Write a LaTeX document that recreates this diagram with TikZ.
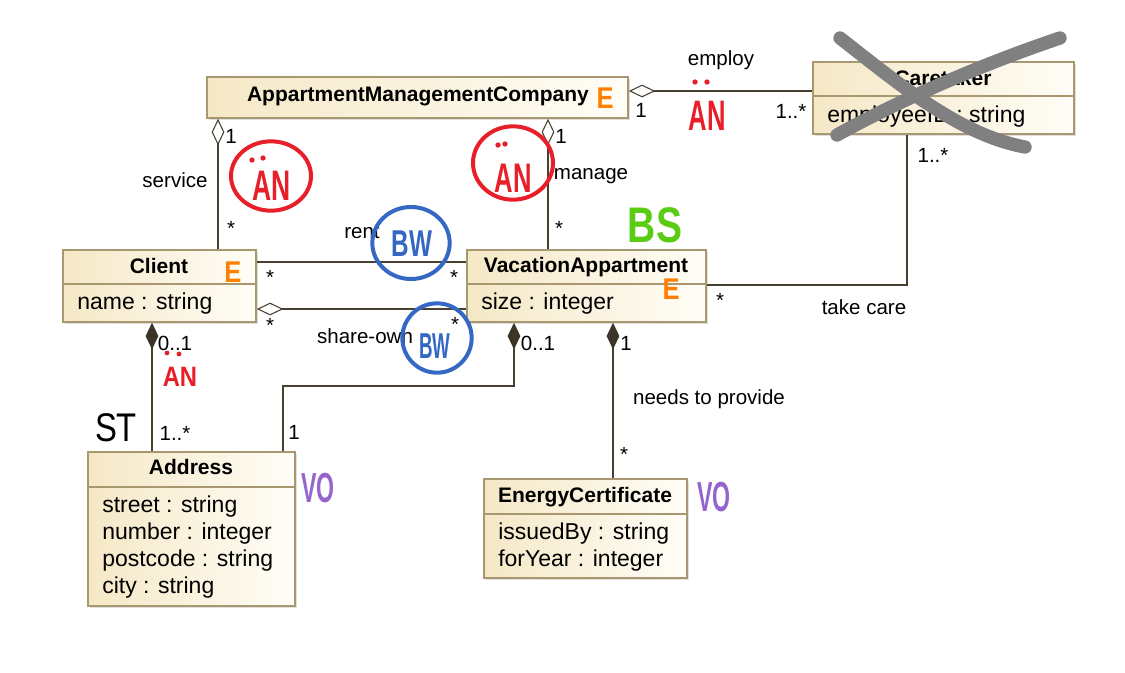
\documentclass[tikz,border=0pt]{standalone}
\usepackage{fontspec}
\setmainfont{Liberation Sans}
\usetikzlibrary{arrows.meta,shadows}
\definecolor{boxL}{RGB}{245,232,198}
\definecolor{boxR}{RGB}{255,253,247}
\definecolor{boxB}{RGB}{168,152,112}
\definecolor{lineC}{RGB}{72,64,48}
\definecolor{diaC}{RGB}{60,52,38}
\definecolor{hOrange}{RGB}{255,128,0}
\definecolor{hRed}{RGB}{232,30,40}
\definecolor{hBlue}{RGB}{52,104,196}
\definecolor{hGreen}{RGB}{90,204,20}
\definecolor{hPurple}{RGB}{150,100,205}
\definecolor{hGray}{RGB}{128,128,128}
\tikzset{
 classbox/.style={draw=boxB, line width=1.1pt, left color=boxL, right color=boxR, inner sep=0pt,
   drop shadow={shadow xshift=1.5pt, shadow yshift=-1.5pt, opacity=0.25}},
 divider/.style={draw=boxB, line width=1pt},
 ctitle/.style={font=\bfseries\fontsize{15.75}{18}\selectfont, anchor=base, inner sep=0pt},
 cattr/.style={font=\fontsize{17.25}{20}\selectfont, anchor=base west, inner sep=0pt},
 lbl/.style={font=\fontsize{15.4}{18}\selectfont, inner sep=0pt},
 assoc/.style={draw=lineC, line width=0.9pt},
 agg/.style={assoc, {Diamond[open, length=20pt, width=9.5pt, line width=0.8pt]}-},
 comp/.style={assoc, {Diamond[length=20pt, width=9.5pt, fill=diaC, color=diaC]}-},
 handb/.style={inner sep=0pt, font=\bfseries\fontsize{#1}{#1}\selectfont},
 handr/.style={inner sep=0pt, font=\fontsize{#1}{#1}\selectfont},
 ring/.style={line width=3pt},
 dot/.style={fill=hRed, draw=none}
}
\begin{document}
\begin{tikzpicture}[x=0.75pt, y=-0.75pt]
\useasboundingbox (0,0) rectangle (1125,672);
\fill[white] (0,0) rectangle (1125,672);

% ---- classes ----
\node[classbox, minimum width=315.75pt, minimum height=30.75pt] (amc) at (417.5,97.5) {};
\node[ctitle] (amcT) at (418,101) {AppartmentManagementCompany};

\node[classbox, minimum width=195.75pt, minimum height=54pt] (care) at (943.5,98) {};
\draw[divider] (813,96) -- (1074,96);
\node[ctitle] (careT) at (943,85) {Caretaker};
\node[cattr] (careA) at (827,122) {employeeID : string};

\node[classbox, minimum width=144.75pt, minimum height=54pt] (cli) at (159.5,286) {};
\draw[divider] (63,284) -- (256,284);
\node[ctitle] (cliT) at (159,273) {Client};
\node[cattr] (cliA) at (77,309) {name : string};

\node[classbox, minimum width=179.25pt, minimum height=54pt] (va) at (586.5,286) {};
\draw[divider] (467,284) -- (706,284);
\node[ctitle] (vaT) at (586,272) {VacationAppartment};
\node[cattr] (vaA) at (481,309) {size : integer};

\node[classbox, minimum width=155.25pt, minimum height=115.5pt] (adr) at (191.5,529) {};
\draw[divider] (88,487) -- (295,487);
\node[ctitle] (adrT) at (191,474) {Address};
\node[cattr] (adr1) at (102,512) {street : string};
\node[cattr] (adr2) at (102,539) {number : integer};
\node[cattr] (adr3) at (102,566) {postcode : string};
\node[cattr] (adr4) at (102,593) {city : string};

\node[classbox, minimum width=152.25pt, minimum height=74.25pt] (ec) at (585.5,528.5) {};
\draw[divider] (484,514) -- (687,514);
\node[ctitle] (ecT) at (585,502) {EnergyCertificate};
\node[cattr] (ec1) at (498,539) {issuedBy : string};
\node[cattr] (ec2) at (498,566) {forYear : integer};

% ---- connectors ----
\coordinate (xsvc) at (218,0);
\coordinate (xman) at (548,0);
\coordinate (yemp) at (0,91);
\coordinate (yrent) at (0,262);
\coordinate (yshare) at (0,309);
\coordinate (tc) at (907,285);
\coordinate (xca) at (152,0);
\coordinate (bend1) at (514,386);
\coordinate (xva2) at (283,0);
\coordinate (xec) at (613,0);

\draw[agg] (amc.south -| xsvc) -- (cli.north -| xsvc);
\draw[agg] (amc.south -| xman) -- (va.north -| xman);
\draw[agg] (amc.east |- yemp) -- (care.west |- yemp);
\draw[assoc] (cli.east |- yrent) -- (va.west |- yrent);
\draw[agg] (cli.east |- yshare) -- (va.west |- yshare);
\draw[assoc] (va.east |- tc) -| (care.south -| tc);
\draw[comp] (cli.south -| xca) -- (adr.north -| xca);
\draw[comp] (va.south -| bend1) -- (bend1) -| (adr.north -| xva2);
\draw[comp] (va.south -| xec) -- (ec.north -| xec);

% ---- labels ----
\node[lbl] (lEmp) at (721,60) {employ};
\node[lbl] (mEmp1) at (641,110) {1};
\node[lbl] (mEmp2) at (791,111) {1..*};
\node[lbl] (lSvc) at (175,180) {service};
\node[lbl] (mSvc1) at (231,136) {1};
\node[lbl] (mSvc2) at (231,228) {*};
\node[lbl] (mMan1) at (561,136) {1};
\node[lbl] (lMan) at (591,176) {manage};
\node[lbl] (mMan2) at (559,228) {*};
\node[lbl] (lRent) at (362,232) {rent};
\node[lbl] (mR1) at (270,277) {*};
\node[lbl] (mR2) at (454,277) {*};
\node[lbl] (lShare) at (365,336) {share-own};
\node[lbl] (mS1) at (270,325) {*};
\node[lbl] (mS2) at (455,324) {*};
\node[lbl] (lTake) at (864,307) {take care};
\node[lbl] (mT1) at (720,300) {*};
\node[lbl] (mT2) at (933,155) {1..*};
\node[lbl] (mCA1) at (175,343) {0..1};
\node[lbl] (mCA2) at (175,433) {1..*};
\node[lbl] (mVA1) at (538,343) {0..1};
\node[lbl] (mVA2) at (294,432) {1};
\node[lbl] (mEC1) at (626,343) {1};
\node[lbl] (lEC) at (709,399) {needs to provide};
\node[lbl] (mEC2) at (624,454) {*};

% ---- handwritten annotations ----
\node[handb=22.5, text=hOrange] (hE1) at (605,98) {\scalebox{0.85}[1]{E}};
\node[handb=22.5, text=hOrange] (hE2) at (233,272) {\scalebox{0.85}[1]{E}};
\node[handb=22.5, text=hOrange] (hE3) at (671,289) {\scalebox{0.85}[1]{E}};

\draw[hRed, ring] (271,176) ellipse [x radius=30pt, y radius=26pt];
\node[handb=32, text=hRed] (hAN1) at (272,186) {\scalebox{0.62}[1]{AN}};
\fill[dot] (252,160) circle (2pt) (263,158) circle (2pt);

\draw[hRed, ring] (513,163) ellipse [x radius=30pt, y radius=27.5pt];
\node[handb=31, text=hRed] (hAN2) at (513,178) {\scalebox{0.62}[1]{AN}};
\fill[dot] (498,145) circle (2pt) (505,144) circle (2pt);

\node[handb=32, text=hRed] (hAN3) at (707,116) {\scalebox{0.6}[1]{AN}};
\fill[dot] (695,82) circle (2pt) (707,82) circle (2pt);

\node[handb=21, text=hRed] (hAN4) at (180,377) {\scalebox{0.85}[1]{AN}};
\fill[dot] (167,353) circle (1.8pt) (179,354) circle (1.8pt);

\draw[hBlue, ring] (411,243) ellipse [x radius=29pt, y radius=27pt];
\node[handb=28, text=hBlue] (hBW1) at (412,244) {\scalebox{0.65}[1]{BW}};
\draw[hBlue, ring] (437,338) ellipse [x radius=26pt, y radius=26pt];
\node[handb=27, text=hBlue] (hBW2) at (435,346) {\scalebox{0.52}[1]{BW}};

\node[handb=37.5, text=hGreen] (hBS) at (655,225) {\scalebox{0.78}[1]{BS}};
\node[handb=31.5, text=hPurple] (hVO1) at (318,488) {\scalebox{0.55}[1]{VO}};
\node[handb=31.5, text=hPurple] (hVO2) at (714,497) {\scalebox{0.55}[1]{VO}};
\node[handr=30, text=black] (hST) at (116,428) {\scalebox{0.82}[1]{ST}};

% ---- gray cross over Caretaker ----
\draw[hGray, line width=10pt, line cap=round] (840,38) .. controls (900,85) and (960,135) .. (1025,147);
\draw[hGray, line width=10pt, line cap=round] (1060,38) .. controls (980,65) and (900,100) .. (837,135);
\end{tikzpicture}
\end{document}
